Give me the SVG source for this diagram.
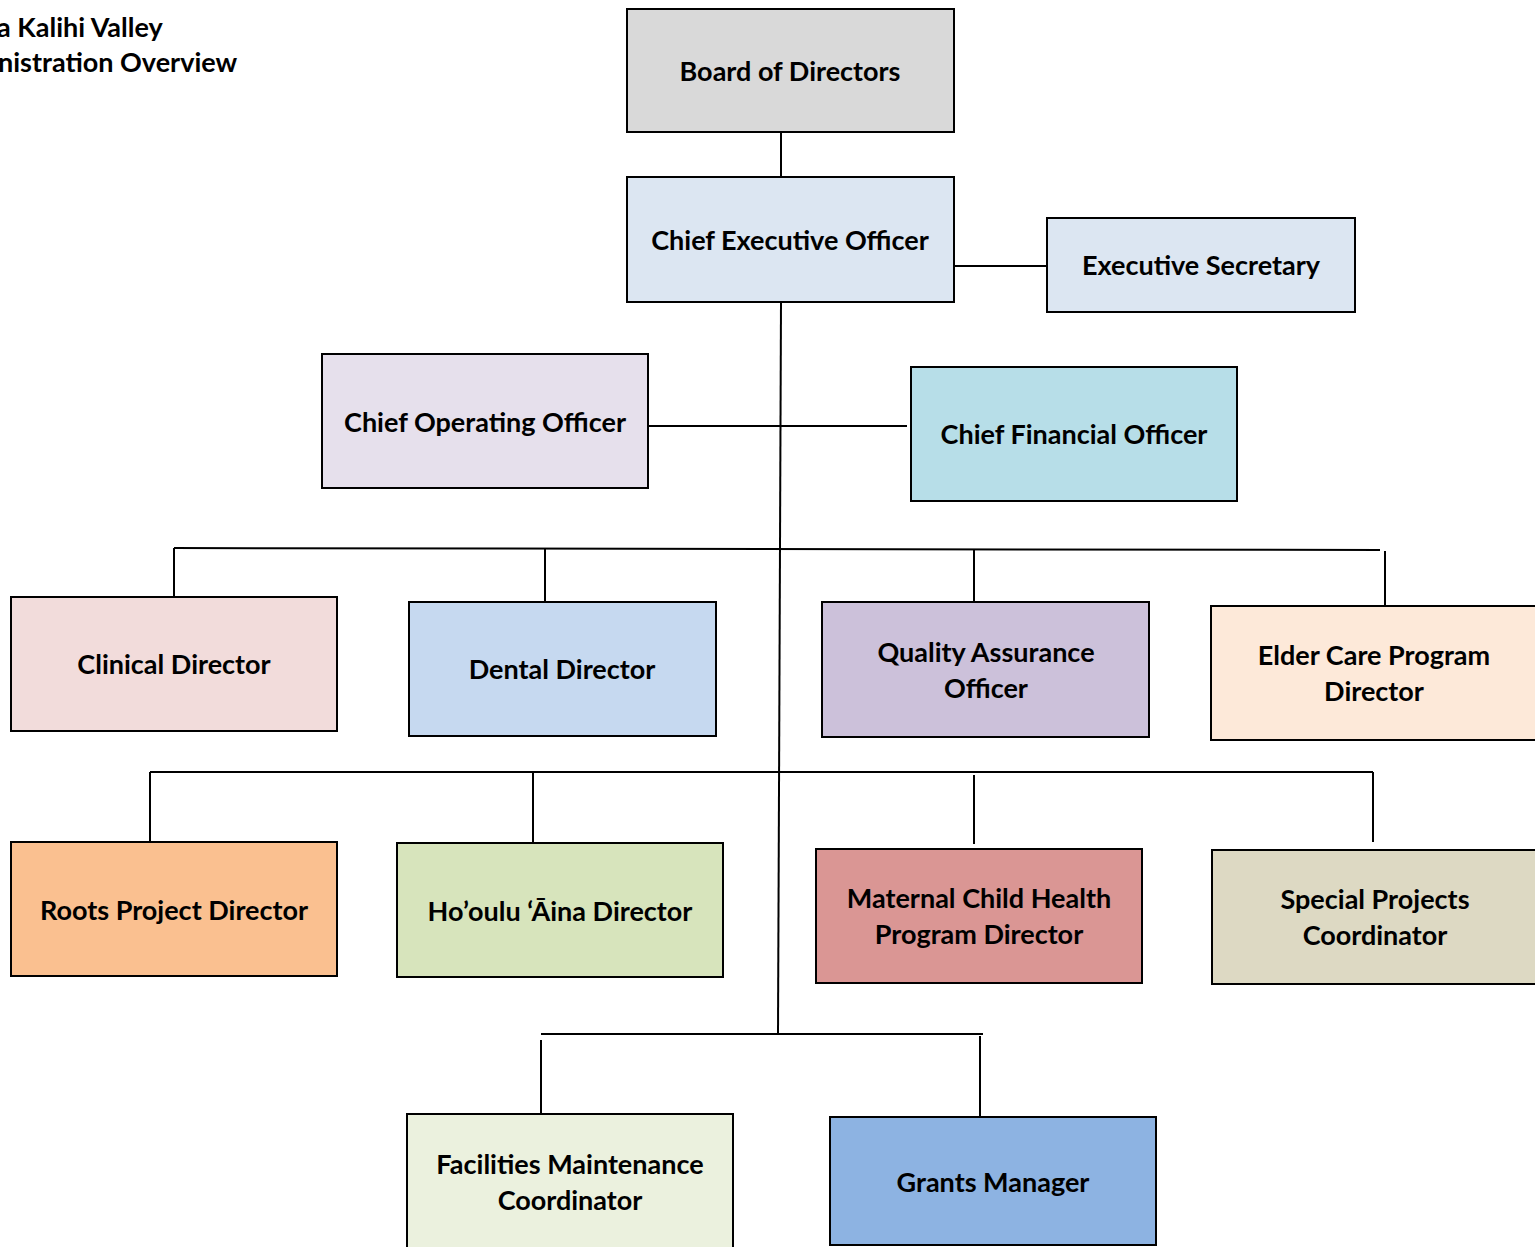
<svg xmlns="http://www.w3.org/2000/svg" width="1535" height="1247" viewBox="0 0 1535 1247">
<style>
  .box { stroke: #000; stroke-width: 2; }
  .t { font-family: Lato, "Open Sans", "Liberation Sans", sans-serif; font-weight: bold; font-size: 27px; fill: #000; text-anchor: middle; }
  .title { font-family: Lato, "Open Sans", "Liberation Sans", sans-serif; font-weight: bold; font-size: 27px; fill: #000; }
  .c { stroke: #000; stroke-width: 2; fill: none; }
</style>
<rect width="1535" height="1247" fill="#fff"/>
<g id="title">
  <text class="title" x="-3" y="37">a Kalihi Valley</text>
  <text class="title" x="-2" y="72">nistration Overview</text>
</g>
<g id="connectors">
  <line class="c" x1="781" y1="132" x2="781" y2="177"/>
  <line class="c" x1="954" y1="266" x2="1047" y2="266"/>
  <line class="c" x1="781" y1="302" x2="778" y2="1034"/>
  <line class="c" x1="648" y1="426" x2="907" y2="426"/>
  <line class="c" x1="174" y1="548" x2="1380" y2="550"/>
  <line class="c" x1="174" y1="548" x2="174" y2="597"/>
  <line class="c" x1="545" y1="549" x2="545" y2="602"/>
  <line class="c" x1="974" y1="550" x2="974" y2="602"/>
  <line class="c" x1="1385" y1="551" x2="1385" y2="605"/>
  <line class="c" x1="150" y1="772" x2="1373" y2="772"/>
  <line class="c" x1="150" y1="772" x2="150" y2="842"/>
  <line class="c" x1="533" y1="772" x2="533" y2="843"/>
  <line class="c" x1="974" y1="775" x2="974" y2="844"/>
  <line class="c" x1="1373" y1="772" x2="1373" y2="842"/>
  <line class="c" x1="541" y1="1034" x2="983" y2="1034"/>
  <line class="c" x1="541" y1="1040" x2="541" y2="1114"/>
  <line class="c" x1="980" y1="1036" x2="980" y2="1117"/>
</g>
<g id="board"><rect class="box" x="627" y="9" width="327" height="123" fill="#d9d9d9"/><text class="t" x="790" y="81">Board of Directors</text></g>
<g id="ceo"><rect class="box" x="627" y="177" width="327" height="125" fill="#dce6f2"/><text class="t" x="790" y="250">Chief Executive Officer</text></g>
<g id="exec-sec"><rect class="box" x="1047" y="218" width="308" height="94" fill="#dce6f2"/><text class="t" x="1201" y="275">Executive Secretary</text></g>
<g id="coo"><rect class="box" x="322" y="354" width="326" height="134" fill="#e6e0ec"/><text class="t" x="485" y="432">Chief Operating Officer</text></g>
<g id="cfo"><rect class="box" x="911" y="367" width="326" height="134" fill="#b7dee8"/><text class="t" x="1074" y="444">Chief Financial Officer</text></g>
<g id="clinical"><rect class="box" x="11" y="597" width="326" height="134" fill="#f2dcdb"/><text class="t" x="174" y="674">Clinical Director</text></g>
<g id="dental"><rect class="box" x="409" y="602" width="307" height="134" fill="#c6d9f0"/><text class="t" x="562" y="679">Dental Director</text></g>
<g id="qa"><rect class="box" x="822" y="602" width="327" height="135" fill="#ccc1da"/><text class="t" x="986" y="662">Quality Assurance</text><text class="t" x="986" y="698">Officer</text></g>
<g id="elder"><rect class="box" x="1211" y="606" width="330" height="134" fill="#fde9d9"/><text class="t" x="1374" y="665">Elder Care Program</text><text class="t" x="1374" y="701">Director</text></g>
<g id="roots"><rect class="box" x="11" y="842" width="326" height="134" fill="#fac090"/><text class="t" x="174" y="920">Roots Project Director</text></g>
<g id="hooulu"><rect class="box" x="397" y="843" width="326" height="134" fill="#d7e4bc"/><text class="t" x="560" y="921">Ho’oulu ‘Āina Director</text></g>
<g id="maternal"><rect class="box" x="816" y="849" width="326" height="134" fill="#da9694"/><text class="t" x="979" y="908">Maternal Child Health</text><text class="t" x="979" y="944">Program Director</text></g>
<g id="special"><rect class="box" x="1212" y="850" width="330" height="134" fill="#ddd9c3"/><text class="t" x="1375" y="909">Special Projects</text><text class="t" x="1375" y="945">Coordinator</text></g>
<g id="facilities"><rect class="box" x="407" y="1114" width="326" height="140" fill="#ebf1de"/><text class="t" x="570" y="1174">Facilities Maintenance</text><text class="t" x="570" y="1210">Coordinator</text></g>
<g id="grants"><rect class="box" x="830" y="1117" width="326" height="128" fill="#8db3e2"/><text class="t" x="993" y="1192">Grants Manager</text></g>
</svg>
